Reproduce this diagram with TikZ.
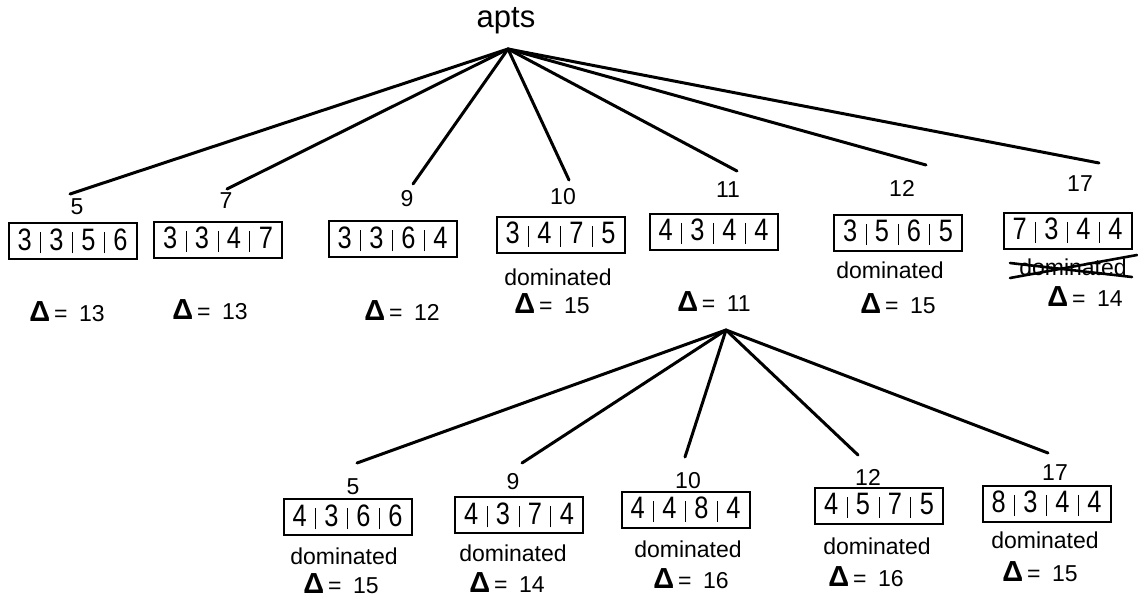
\documentclass[tikz,border=0pt]{standalone}
\usepackage{graphicx}
\usepackage{fontspec}
\setmainfont{Liberation Sans}
\newcommand\cellsep{\rule[-3pt]{0.9pt}{21pt}}
\newcommand\cellnum[1]{\makebox[31pt]{\scalebox{0.82}[1]{#1}}}
\newcommand\cellrow[4]{\cellnum{#1}\cellsep\cellnum{#2}\cellsep\cellnum{#3}\cellsep\cellnum{#4}}
\newcommand\dcost[1]{{\fontsize{29}{29}\selectfont\bfseries Δ}\,=\enspace#1}
\tikzset{
  edge/.style={line width=3pt, line cap=round},
  cellbox/.style={draw, line width=2pt, minimum width=128pt, minimum height=36pt,
    inner sep=0pt, font=\fontsize{31}{31}\selectfont},
  idx/.style={font=\fontsize{23}{23}\selectfont},
  note/.style={font=\fontsize{23}{23}\selectfont},
  cost/.style={font=\fontsize{23}{23}\selectfont},
  strike/.style={line width=2.6pt, line cap=round},
}
\begin{document}
\begin{tikzpicture}[x=1pt,y=-1pt]
\useasboundingbox (0,0) rectangle (1138,600);

% root
\node[font=\fontsize{31}{31}\selectfont] (apts) at (506,21) {apts};
\coordinate (r) at (508,49);

% first level: end points of the branches
\coordinate (e5)  at (70,194);
\coordinate (e7)  at (227,189);
\coordinate (e9)  at (413,184);
\coordinate (e10) at (569,180);
\coordinate (e11) at (737,171);
\coordinate (e12) at (926,165);
\coordinate (e17) at (1099,163);
\foreach \k in {5,7,9,10,11,12,17} \draw[edge] (r) -- (e\k);

% first level: labels, boxes, notes, costs
\node[idx] (l5)  at (77,207)  {5};
\node[idx] (l7)  at (226,201) {7};
\node[idx] (l9)  at (407,199) {9};
\node[idx] (l10) at (563,197) {10};
\node[idx] (l11) at (728,190) {11};
\node[idx] (l12) at (902,188) {12};
\node[idx] (l17) at (1080,184) {17};

\node[cellbox] (b5)  at (72.5,241)  {\cellrow3356};
\node[cellbox] (b7)  at (218,239.5) {\cellrow3347};
\node[cellbox] (b9)  at (392.5,239) {\cellrow3364};
\node[cellbox] (b10) at (560.5,234.5) {\cellrow3475};
\node[cellbox] (b11) at (713.5,231.5) {\cellrow4344};
\node[cellbox] (b12) at (898,232.5) {\cellrow3565};
\node[cellbox] (b17) at (1067.5,230.5) {\cellrow7344};

\node[note] (d10) at (558,277) {dominated};
\node[note] (d12) at (890,270) {dominated};
\node[note] (d17) at (1073,267) {dominated};
\coordinate (x1a) at (1010,278);
\coordinate (x1b) at (1137,255);
\coordinate (x2a) at (1010,263);
\coordinate (x2b) at (1132,277);
\draw[strike] (x1a) -- (x1b);
\draw[strike] (x2a) -- (x2b);

\node[cost] (c5)  at (67,312)  {\dcost{13}};
\node[cost] (c7)  at (210,310) {\dcost{13}};
\node[cost] (c9)  at (402,311) {\dcost{12}};
\node[cost] (c10) at (552,304) {\dcost{15}};
\node[cost] (c11) at (714,302) {\dcost{11}};
\node[cost] (c12) at (898,304) {\dcost{15}};
\node[cost] (c17) at (1085,297) {\dcost{14}};

% second level, expanded below node 11
\coordinate (s) at (726,330);
\coordinate (f5)  at (357,463);
\coordinate (f9)  at (522,463);
\coordinate (f10) at (685,457);
\coordinate (f12) at (858,455);
\coordinate (f17) at (1048,453);
\foreach \k in {5,9,10,12,17} \draw[edge] (s) -- (f\k);

\node[idx] (m5)  at (353,487)  {5};
\node[idx] (m9)  at (513,482)  {9};
\node[idx] (m10) at (688,481)  {10};
\node[idx] (m12) at (868,477)  {12};
\node[idx] (m17) at (1055,473) {17};

\node[cellbox] (q5)  at (347.5,517)  {\cellrow4366};
\node[cellbox] (q9)  at (519,515)    {\cellrow4374};
\node[cellbox] (q10) at (685.5,509.5) {\cellrow4484};
\node[cellbox] (q12) at (879,505.5)  {\cellrow4575};
\node[cellbox] (q17) at (1046.5,503.5) {\cellrow8344};

\node[note] (n5)  at (344,556)  {dominated};
\node[note] (n9)  at (513,553)  {dominated};
\node[note] (n10) at (688,549)  {dominated};
\node[note] (n12) at (877,546)  {dominated};
\node[note] (n17) at (1045,540) {dominated};

\node[cost] (k5)  at (341,584)  {\dcost{15}};
\node[cost] (k9)  at (507,583)  {\dcost{14}};
\node[cost] (k10) at (691,579)  {\dcost{16}};
\node[cost] (k12) at (866,577)  {\dcost{16}};
\node[cost] (k17) at (1040,572) {\dcost{15}};
\end{tikzpicture}
\end{document}
